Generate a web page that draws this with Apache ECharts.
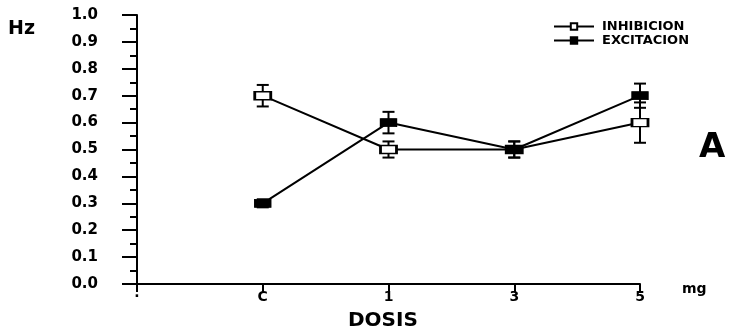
<!DOCTYPE html>
<html>
<head>
<meta charset="utf-8">
<script src="https://cdn.jsdelivr.net/npm/echarts@6/dist/echarts.min.js"></script>
<style>
  html, body { margin: 0; padding: 0; background: #fff; }
  #chart { width: 733px; height: 334px; }
</style>
</head>
<body>
<div id="chart"></div>
<script>
// dosis (primer punto sin dato, solo marca del eje)
const categories = ['·', 'C', '1', '3', '5'];

const inhibMean = ['-', 0.70, 0.50, 0.50, 0.60];
const inhibErr = [0, 0.04, 0.03, 0.03, 0.075];

const excitMean = ['-', 0.30, 0.60, 0.50, 0.70];
const excitErr = [0, 0.015, 0.04, 0.03, 0.045];

const FONT = 'DejaVu Sans';

// barras de error: [indice, media, error]
function errData(mean, err) {
  const out = [];
  mean.forEach((m, i) => {
    if (m !== '-') out.push([i, m, err[i]]);
  });
  return out;
}

function renderErr(params, api) {
  const x = api.value(0);
  const m = api.value(1);
  const e = api.value(2);
  const top = api.coord([x, m + e]);
  const bot = api.coord([x, m - e]);
  const cap = 6;
  const style = { stroke: '#000', lineWidth: 2 };
  return {
    type: 'group',
    children: [
      { type: 'line', shape: { x1: top[0], y1: top[1], x2: bot[0], y2: bot[1] }, style },
      { type: 'line', shape: { x1: top[0] - cap, y1: top[1], x2: top[0] + cap, y2: top[1] }, style },
      { type: 'line', shape: { x1: bot[0] - cap, y1: bot[1], x2: bot[0] + cap, y2: bot[1] }, style }
    ]
  };
}

const chart = echarts.init(document.getElementById('chart'), null, { renderer: 'canvas' });

chart.setOption({
  animation: false,
  backgroundColor: '#fff',
  textStyle: { fontFamily: FONT, color: '#000' },
  grid: { left: 137, right: 93, top: 15, bottom: 50, containLabel: false },
  legend: {
    orient: 'vertical',
    left: 553,
    top: 20,
    padding: 0,
    itemWidth: 40,
    itemHeight: 8,
    itemGap: 1,
    data: ['INHIBICION', 'EXCITACION'],
    textStyle: {
      fontFamily: FONT, fontWeight: 'bold', fontSize: 13, lineHeight: 10,
      color: '#000', padding: [0, 0, 0, 3]
    }
  },
  xAxis: {
    type: 'category',
    data: categories,
    boundaryGap: false,
    axisLine: { lineStyle: { color: '#000', width: 2 } },
    axisTick: { length: 8, lineStyle: { color: '#000', width: 2 } },
    axisLabel: { margin: 6, fontFamily: FONT, fontWeight: 'bold', fontSize: 14, color: '#000' },
    splitLine: { show: false }
  },
  yAxis: {
    type: 'value',
    min: 0,
    max: 1,
    interval: 0.1,
    axisLine: { show: true, lineStyle: { color: '#000', width: 2 } },
    axisTick: { show: true, length: 15, lineStyle: { color: '#000', width: 2 } },
    minorTick: { show: true, splitNumber: 2, length: 7, lineStyle: { color: '#000', width: 2 } },
    axisLabel: {
      margin: 39,
      fontFamily: FONT,
      fontWeight: 'bold',
      fontSize: 15,
      color: '#000',
      formatter: v => v.toFixed(1)
    },
    splitLine: { show: false }
  },
  graphic: [
    { type: 'text', left: 8, top: 20, style: { text: 'Hz', font: 'bold 19px "DejaVu Sans"', fill: '#000' } },
    { type: 'text', left: 682, top: 282, style: { text: 'mg', font: 'bold 14px "DejaVu Sans"', fill: '#000' } },
    { type: 'text', left: 348, top: 311, style: { text: 'DOSIS', font: 'bold 20px "DejaVu Sans"', fill: '#000' } },
    { type: 'text', left: 699, top: 131, style: { text: 'A', font: 'bold 34px "DejaVu Sans"', fill: '#000' } }
  ],
  series: [
    {
      name: 'INHIBICION',
      type: 'line',
      data: inhibMean,
      symbol: 'rect',
      symbolSize: [16, 8],
      lineStyle: { color: '#000', width: 2 },
      itemStyle: { color: '#fff', borderColor: '#000', borderWidth: 2 },
      z: 3
    },
    {
      name: 'EXCITACION',
      type: 'line',
      data: excitMean,
      symbol: 'rect',
      symbolSize: [16, 8],
      lineStyle: { color: '#000', width: 2 },
      itemStyle: { color: '#000', borderColor: '#000', borderWidth: 1 },
      z: 4
    },
    {
      type: 'custom',
      data: errData(inhibMean, inhibErr),
      renderItem: renderErr,
      z: 2
    },
    {
      type: 'custom',
      data: errData(excitMean, excitErr),
      renderItem: renderErr,
      z: 2
    }
  ]
});
</script>
</body>
</html>
